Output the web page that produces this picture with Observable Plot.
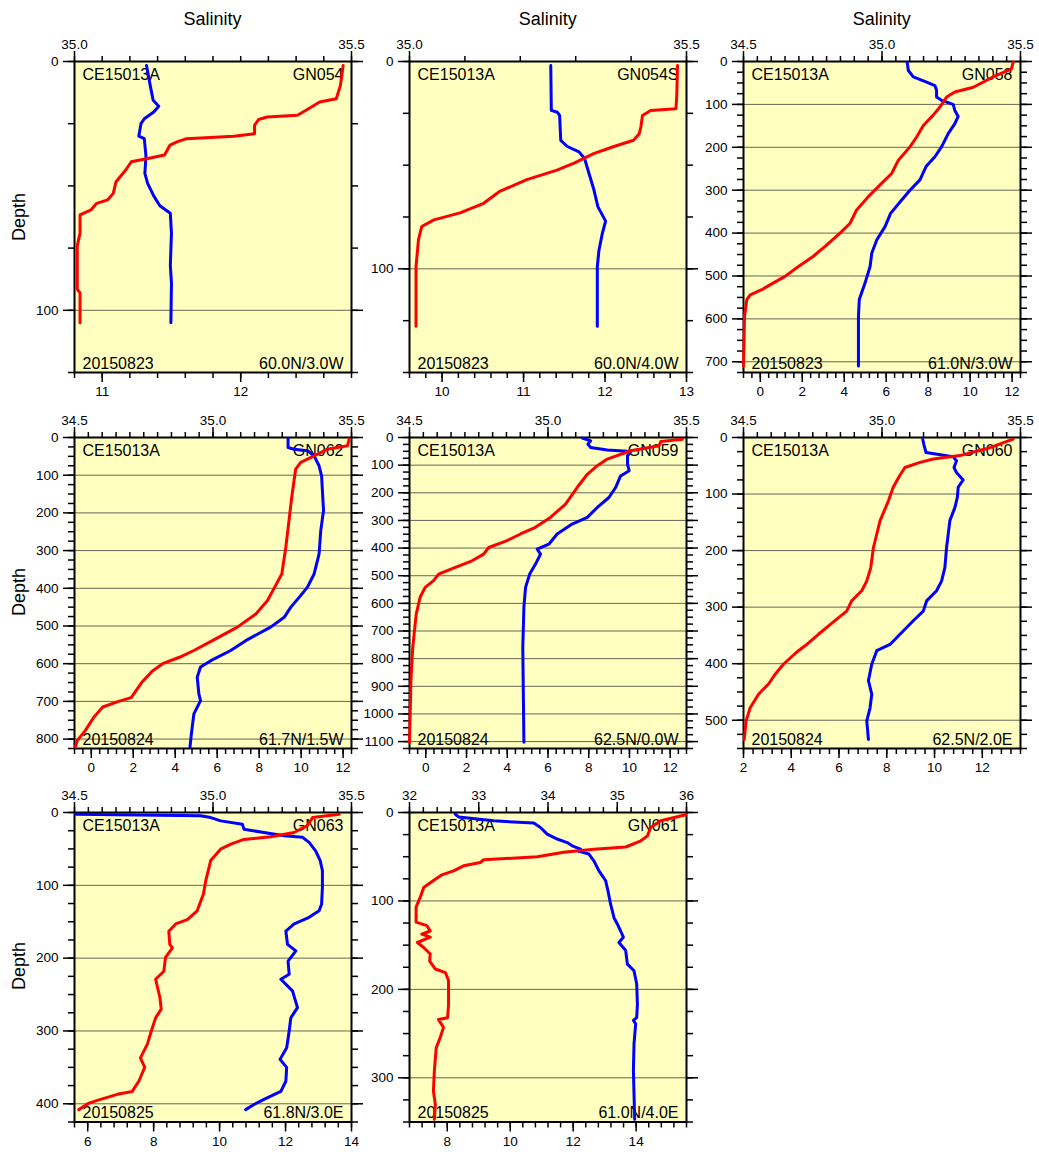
<!DOCTYPE html>
<html><head><meta charset="utf-8">
<script src="https://cdn.jsdelivr.net/npm/d3@7"></script>
<script src="https://cdn.jsdelivr.net/npm/@observablehq/plot@0.6"></script>
<style>
body{margin:0;background:#fff;font-family:"Liberation Sans",Arial,sans-serif;}
#chart{position:relative;width:1039px;height:1155px;overflow:hidden;}
#chart svg{position:absolute;}
.lbl{position:absolute;font-size:18px;line-height:18px;color:#000;white-space:nowrap;text-align:center;}
</style></head><body><div id="chart"></div>
<script>
// ---- metadata ----
const cruise = "CE15013A";
const stations = ["GN054","GN054S","GN058","GN062","GN059","GN060","GN063","GN061"];
const dates = ["20150823","20150823","20150823","20150824","20150824","20150824","20150825","20150825"];
const positions = ["60.0N/3.0W","60.0N/4.0W","61.0N/3.0W","61.7N/1.5W","62.5N/0.0W","62.5N/2.0E","61.8N/3.0E","61.0N/4.0E"];

// ---- axes ----
const depthMax = [125,150,725,825,1125,550,425,350];
const depthMajor = [[0,100],[0,100],[0,100,200,300,400,500,600,700],[0,100,200,300,400,500,600,700,800],
  [0,100,200,300,400,500,600,700,800,900,1000,1100],[0,100,200,300,400,500],[0,100,200,300,400],[0,100,200,300]];
const depthMinorStep = 25;
const salDomain = [[35,35.5],[35,35.5],[34.5,35.5],[34.5,35.5],[34.5,35.5],[34.5,35.5],[34.5,35.5],[32,36]];
const salMajor = [[35.0,35.5],[35.0,35.5],[34.5,35.0,35.5],[34.5,35.0,35.5],[34.5,35.0,35.5],[34.5,35.0,35.5],[34.5,35.0,35.5],[32,33,34,35,36]];
const salMinorStep = [0.05,0.1,0.05,0.05,0.05,0.05,0.05,0.2];
const salFormat = [".1f",".1f",".1f",".1f",".1f",".1f",".1f","d"];
const tempDomain = [[10.8,12.8],[9.6,13],[-0.8,12.4],[-0.8,12.4],[-0.8,12.8],[2,13.6],[5.6,14],[6.8,15.6]];
const tempMajor = [[11,12],[10,11,12,13],[0,2,4,6,8,10,12],[0,2,4,6,8,10,12],[0,2,4,6,8,10,12],[2,4,6,8,10,12],[6,8,10,12,14],[8,10,12,14]];
const tempMinorStep = [0.2,0.2,0.4,0.4,0.4,0.4,0.4,0.4];

// ---- profiles: salinity (blue) ----
const salDepth054 = [1.6,10,15.6,18,20.3,23,25,30,31,38,45,49,54,58,61,69,82,89,105];
const sal054 = [35.130,35.137,35.142,35.152,35.143,35.126,35.120,35.116,35.126,35.129,35.127,35.132,35.143,35.154,35.173,35.175,35.173,35.175,35.174];
const salDepth054S = [1.9,23.6,24.5,26,38,41,43.6,46.8,54,62,70,77,83,91,99,127.7];
const sal054S = [35.255,35.256,35.267,35.271,35.273,35.285,35.306,35.316,35.324,35.333,35.340,35.354,35.348,35.342,35.339,35.339];
const salDepth058 = [1.5,21,36,48,56,67,83,90.6,100,114,128,145,168,199,222,245,276,300,323,354,385,416,447,478,516,555,594,710];
const sal058 = [35.091,35.095,35.113,35.161,35.191,35.197,35.197,35.215,35.257,35.263,35.275,35.263,35.239,35.215,35.191,35.159,35.137,35.101,35.071,35.031,35.011,34.981,34.963,34.957,34.939,34.918,34.915,34.915];
const salDepth062 = [4,26.5,31,35,49,75,101.5,141,194,247,309,362,397,424,450,477,503,539,565,592,609,636,680,698,733,786,821];
const sal062 = [35.271,35.271,35.293,35.341,35.365,35.383,35.392,35.395,35.399,35.389,35.383,35.365,35.341,35.311,35.281,35.257,35.208,35.118,35.064,34.992,34.955,34.943,34.949,34.955,34.931,34.922,34.917];
const salDepth059 = [2.4,12,24,36,45,51,66,96,120,139,181,217,253,289,313,349,386,404,422,458,494,542,614,759,1102];
const sal059 = [35.124,35.154,35.144,35.154,35.214,35.299,35.287,35.287,35.293,35.262,35.244,35.220,35.178,35.142,35.087,35.033,35.003,34.961,34.973,34.955,34.934,34.919,34.913,34.909,34.913];
const salDepth060 = [3,12,26.5,34,41,53,62,75,88,106,124,147,195,230,254,271,289,307,324,348,366,377,401,430,454,478,501,534];
const sal060 = [35.147,35.151,35.159,35.257,35.269,35.260,35.269,35.293,35.275,35.272,35.263,35.245,35.233,35.227,35.215,35.197,35.161,35.149,35.113,35.065,35.029,34.981,34.963,34.951,34.963,34.957,34.945,34.951];
const salDepth063 = [2.3,4.6,7,11.5,16,23,27.5,32,34,41,53,66,80,103,126,135,144,153,163,181,190,204,222,229,245,268,282,300,323,339,350,369,383,394,401,408];
const sal063 = [34.504,34.955,34.992,35.028,35.106,35.112,35.184,35.257,35.323,35.347,35.371,35.387,35.395,35.395,35.392,35.383,35.347,35.293,35.263,35.269,35.299,35.271,35.275,35.245,35.287,35.305,35.281,35.275,35.266,35.242,35.266,35.263,35.245,35.184,35.148,35.118];
const salDepth061 = [2,5,9.4,12,17,24.5,30,34,37.7,41.5,44,47,54.7,66,77,88.6,104,119,126,134,141,147,156,171.5,179,194,217,232,235,239,262,292,347];
const sal061 = [32.661,32.709,33.216,33.795,33.891,33.988,34.133,34.277,34.350,34.470,34.446,34.591,34.663,34.736,34.832,34.866,34.905,34.953,35.001,35.049,35.088,35.025,35.122,35.146,35.242,35.281,35.291,35.281,35.233,35.266,35.242,35.233,35.252];

// ---- profiles: temperature (red) ----
const tempDepth054 = [1.6,9.6,15,16.3,19,21.6,22.3,23.3,25.6,29,30,31,32.3,33.6,37.6,39,40.3,43.6,48.3,53,55.6,57,59.6,61.6,69,74,91.6,93,105];
const temp054 = [12.74,12.72,12.69,12.57,12.49,12.41,12.19,12.13,12.10,12.10,11.95,11.61,11.54,11.49,11.45,11.33,11.21,11.17,11.10,11.08,11.04,10.96,10.92,10.84,10.84,10.82,10.82,10.84,10.84];
const tempDepth054S = [1.9,17,22.8,23.6,26,31.6,34.8,38,41,44.4,49,52.4,57,62.8,68.4,73,76.4,79.6,86,99,127.7];
const temp054S = [12.89,12.88,12.87,12.56,12.46,12.44,12.42,12.35,12.11,11.86,11.62,11.41,11.04,10.70,10.51,10.22,9.90,9.75,9.71,9.68,9.68];
const tempDepth058 = [1.5,17,36,60,71,83,106,125,149,176,199,230,261,284,315,346,377,400,431,454,478,501,516,532,544,555,594,710];
const temp058 = [12.05,11.97,11.10,10.15,9.27,8.88,8.56,8.24,7.77,7.45,7.13,6.58,6.26,5.78,5.15,4.59,4.28,3.80,3.09,2.53,1.82,1.18,0.63,0.07,-0.48,-0.64,-0.75,-0.80];
const tempDepth062 = [4,22,31,49,66,84,115,159,212,291,362,397,433,468,503,539,565,583,600,620,650,690,700,715,742,777,804,821];
const temp062 = [12.29,12.21,11.25,10.62,9.98,9.74,9.66,9.55,9.44,9.27,9.08,8.74,8.39,7.84,6.96,5.77,4.89,4.20,3.40,2.90,2.40,1.90,1.30,0.55,0.12,-0.28,-0.67,-0.75];
const tempDepth059 = [6,14.5,30,48,78,102,133,181,241,289,325,349,373,398,422,446,470,494,518,542,578,639,759,880,1102];
const temp059 = [12.60,11.54,11.45,10.06,8.91,8.42,7.93,7.43,6.86,6.12,5.38,4.65,3.99,3.09,2.84,2.27,1.45,0.63,0.38,-0.03,-0.28,-0.47,-0.64,-0.73,-0.80];
const tempDepth060 = [3,18,32,38,44,53,68,88,112,147,195,230,254,271,289,307,324,348,366,377,401,419,436,454,478,501,534];
const temp060 = [13.29,12.32,11.06,9.95,9.39,8.76,8.53,8.27,8.07,7.72,7.44,7.33,7.16,6.95,6.53,6.32,5.83,5.14,4.65,4.30,3.67,3.32,3.05,2.63,2.28,2.11,2.03];
const tempDepth063 = [2.3,7,18,27.5,33.4,37,43.5,50.4,66,94,112,135,147,153,163,181,186,199,218,229,254,270,282,300,318,337,350,369,383,387,394,399,408];
const temp063 = [13.63,12.82,12.66,12.26,11.55,10.74,10.34,10.03,9.73,9.58,9.51,9.32,9.02,8.67,8.46,8.49,8.57,8.36,8.31,8.06,8.19,8.23,8.06,7.93,7.81,7.60,7.73,7.55,7.35,6.90,6.39,6.04,5.73];
const tempDepth061 = [2.6,9.4,17,26.4,32,39,41.5,45,50,53.5,56.5,60.3,66,70.5,75.4,84.8,96,107,124,128,134,137.6,141,147,152.7,160,168,171.5,177,181,190,217,232,234,243,254,266,292,315,330,347];
const temp061 = [15.58,14.78,14.46,14.36,14.15,13.67,12.66,11.70,10.86,9.16,9.05,8.52,8.20,7.83,7.62,7.25,7.14,7.01,7.01,7.35,7.46,7.19,7.46,7.05,7.25,7.46,7.44,7.51,7.62,7.94,8.04,8.04,8.01,7.72,7.88,7.78,7.65,7.59,7.56,7.62,7.59];

const salDepths = [salDepth054,salDepth054S,salDepth058,salDepth062,salDepth059,salDepth060,salDepth063,salDepth061];
const sals = [sal054,sal054S,sal058,sal062,sal059,sal060,sal063,sal061];
const tempDepths = [tempDepth054,tempDepth054S,tempDepth058,tempDepth062,tempDepth059,tempDepth060,tempDepth063,tempDepth061];
const temps = [temp054,temp054S,temp058,temp062,temp059,temp060,temp063,temp061];

// ---- layout ----
const FONT = '"Liberation Sans", Arial, sans-serif';
const colX = [74, 409.3, 743.3];
const rowY = [61, 436.7, 811.7];
const plotW = 277;
const plotH = [311, 311, 309.5];
const M = {top: 45, right: 40, bottom: 45, left: 55};
const TICKFONT = 13.5;
const chart = document.getElementById("chart");

function pairs(xs, ys, kx, ky) {
  const n = Math.min(xs.length, ys.length);
  return d3.range(n).map(k => ({[kx]: xs[k], [ky]: ys[k]}));
}
function steps(lo, hi, st) {
  const n = Math.round((hi - lo) / st);
  return d3.range(n + 1).map(k => +(lo + k * st).toFixed(4));
}
function place(svg, left, top) {
  svg.style.left = left + "px";
  svg.style.top = top + "px";
  chart.appendChild(svg);
}

for (let i = 0; i < 8; i++) {
  const col = i % 3, row = Math.floor(i / 3);
  const h = plotH[row];
  const W = plotW + M.left + M.right, H = h + M.top + M.bottom;
  const yOpt = {domain: [0, depthMax[i]], reverse: true, axis: null};
  const common = {
    width: W, height: H,
    marginLeft: M.left, marginRight: M.right, marginTop: M.top, marginBottom: M.bottom,
    style: {background: "transparent", fontFamily: FONT, fontSize: TICKFONT + "px", color: "#000", overflow: "visible"}
  };
  const dMinor = steps(0, depthMax[i], depthMinorStep);
  const sMinor = steps(salDomain[i][0], salDomain[i][1], salMinorStep[i]);
  const tMinor = steps(tempDomain[i][0], tempDomain[i][1], tempMinorStep[i]);
  const blank = () => "";
  const tick = {stroke: "#000", strokeWidth: 1.5, label: null, fontSize: TICKFONT, fill: "#000"};

  const base = Plot.plot({
    ...common,
    x: {domain: salDomain[i], axis: null},
    y: yOpt,
    marks: [
      Plot.frame({fill: "#ffffc0", stroke: null}),
      Plot.gridY(depthMajor[i], {stroke: "#333", strokeOpacity: 0.75, strokeWidth: 1}),
      Plot.axisY(dMinor, {anchor: "left", tickSize: 6, tickFormat: blank, ...tick}),
      Plot.axisY(depthMajor[i], {anchor: "left", tickSize: 11, tickPadding: 5, tickFormat: "d", ...tick}),
      Plot.axisY(dMinor, {anchor: "right", tickSize: 6, tickFormat: blank, ...tick}),
      Plot.axisY(depthMajor[i], {anchor: "right", tickSize: 11, tickFormat: blank, ...tick}),
      Plot.axisX(sMinor, {anchor: "top", tickSize: 6, tickFormat: blank, ...tick}),
      Plot.axisX(salMajor[i], {anchor: "top", tickSize: 11, tickPadding: 2, tickFormat: d3.format(salFormat[i]), ...tick}),
      Plot.text([cruise], {frameAnchor: "top-left", lineAnchor: "top", textAnchor: "start", dx: 8, dy: 7.5, fontSize: 16, fill: "#000"}),
      Plot.text([stations[i]], {frameAnchor: "top-right", lineAnchor: "top", textAnchor: "end", dx: -8, dy: 7.5, fontSize: 16, fill: "#000"}),
      Plot.text([dates[i]], {frameAnchor: "bottom-left", lineAnchor: "bottom", textAnchor: "start", dx: 8, dy: -4, fontSize: 16, fill: "#000"}),
      Plot.text([positions[i]], {frameAnchor: "bottom-right", lineAnchor: "bottom", textAnchor: "end", dx: -8, dy: -4, fontSize: 16, fill: "#000"}),
      Plot.frame({stroke: "#000", strokeWidth: 2}),
      Plot.line(pairs(sals[i], salDepths[i], "s", "d"), {x: "s", y: "d", stroke: "#0000ff", strokeWidth: 3, curve: "linear"})
    ]
  });
  place(base, colX[col] - M.left, rowY[row] - M.top);

  const over = Plot.plot({
    ...common,
    x: {domain: tempDomain[i], axis: null},
    y: yOpt,
    marks: [
      Plot.axisX(tMinor, {anchor: "bottom", tickSize: 6, tickFormat: blank, ...tick}),
      Plot.axisX(tempMajor[i], {anchor: "bottom", tickSize: 10, tickPadding: 4, tickFormat: "d", ...tick}),
      Plot.line(pairs(temps[i], tempDepths[i], "t", "d"), {x: "t", y: "d", stroke: "#ff0000", strokeWidth: 3, curve: "linear"})
    ]
  });
  place(over, colX[col] - M.left, rowY[row] - M.top);
}

// Axis titles
function addLabel(text, cx, cy, rotate) {
  const el = document.createElement("div");
  el.className = "lbl";
  el.textContent = text;
  el.style.width = "120px";
  el.style.left = (cx - 60) + "px";
  el.style.top = (cy - 9) + "px";
  if (rotate) el.style.transform = "rotate(-90deg)";
  chart.appendChild(el);
}
for (let c = 0; c < 3; c++) addLabel("Salinity", colX[c] + plotW / 2, 18.5, false);
for (let r = 0; r < 3; r++) addLabel("Depth", 18.5, rowY[r] + plotH[r] / 2, true);
</script></body></html>
